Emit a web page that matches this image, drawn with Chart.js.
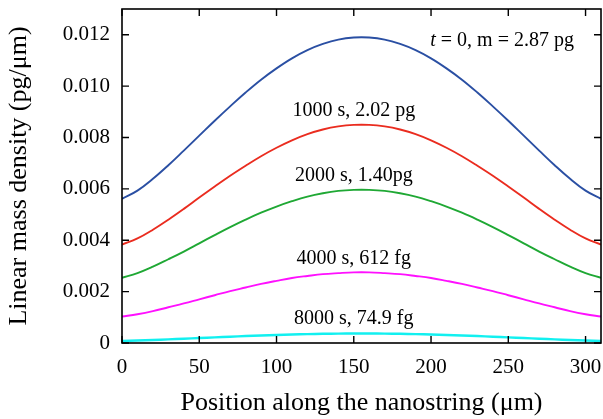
<!DOCTYPE html>
<html>
<head>
<meta charset="utf-8">
<script src="https://cdn.jsdelivr.net/npm/chart.js@4/dist/chart.umd.min.js"></script>
<style>
  html, body { margin: 0; padding: 0; background: #fff; }
  #wrap { width: 603px; height: 419px; }
</style>
</head>
<body>
<div id="wrap"><canvas id="c" width="603" height="419"></canvas></div>
<script>
// ---- data ----
const positions = [0,10,20,30,40,50,60,70,80,90,100,110,120,130,140,150,160,170,180,190,200,210,220,230,240,250,260,270,280,290,300,310];

const density_t0 = [0.00561,0.00593,0.00639,0.00692,0.00749,0.00807,0.00865,0.00921,0.00975,0.01025,0.01069,0.01108,0.01140,0.01164,0.01181,0.01189,
                    0.01189,0.01181,0.01164,0.01140,0.01108,0.01069,0.01025,0.00975,0.00921,0.00865,0.00807,0.00749,0.00692,0.00639,0.00593,0.00561];
const density_1000 = [0.00383,0.00407,0.00441,0.00480,0.00522,0.00566,0.00609,0.00651,0.00690,0.00727,0.00760,0.00789,0.00813,0.00831,0.00843,0.00849,
                      0.00849,0.00843,0.00831,0.00813,0.00789,0.00760,0.00727,0.00690,0.00651,0.00609,0.00566,0.00522,0.00480,0.00441,0.00407,0.00383];
const density_2000 = [0.00254,0.00272,0.00297,0.00326,0.00356,0.00388,0.00420,0.00451,0.00480,0.00507,0.00531,0.00552,0.00570,0.00583,0.00592,0.00596,
                      0.00596,0.00592,0.00583,0.00570,0.00552,0.00531,0.00507,0.00480,0.00451,0.00420,0.00388,0.00356,0.00326,0.00297,0.00272,0.00254];
const density_4000 = [0.00103,0.00112,0.00124,0.00139,0.00154,0.00170,0.00186,0.00202,0.00216,0.00230,0.00242,0.00253,0.00261,0.00268,0.00272,0.00275,
                      0.00275,0.00272,0.00268,0.00261,0.00253,0.00242,0.00230,0.00216,0.00202,0.00186,0.00170,0.00154,0.00139,0.00124,0.00112,0.00103];
const density_8000 = [0.000080,0.000095,0.000116,0.000140,0.000167,0.000193,0.000220,0.000246,0.000271,0.000294,0.000314,0.000332,0.000347,0.000358,0.000366,0.000370,
                      0.000370,0.000366,0.000358,0.000347,0.000332,0.000314,0.000294,0.000271,0.000246,0.000220,0.000193,0.000167,0.000140,0.000116,0.000095,0.000080];

const seriesLabels = ['t = 0, m = 2.87 pg', '1000 s, 2.02 pg', '2000 s, 1.40pg', '4000 s, 612 fg', '8000 s, 74.9 fg'];

const xTickValues = [0,50,100,150,200,250,300];
const xTickLabels = ['0','50','100','150','200','250','300'];
const yTickValues = [0,0.002,0.004,0.006,0.008,0.010,0.012];
const yTickLabels = ['0','0.002','0.004','0.006','0.008','0.010','0.012'];

// annotation anchors (data coordinates)
const labelX = [246, 150, 150, 150, 150];
const labelY = [0.01177, 0.00905, 0.00652, 0.00329, 0.00095];

const FONT = '"Liberation Serif", "Times New Roman", serif';
const colors = ['#2a4fa3', '#ea2c1f', '#1fa834', '#ff10ff', '#12f0f0'];
const seriesData = [density_t0, density_1000, density_2000, density_4000, density_8000];

const datasets = seriesData.map((arr, i) => ({
  label: seriesLabels[i],
  data: positions.map((x, k) => ({x: x, y: arr[k]})),
  borderColor: colors[i],
  borderWidth: i === 4 ? 2.4 : 1.9,
  pointRadius: 0,
  fill: false,
  tension: 0.4
}));

const framePlugin = {
  id: 'frame',
  afterDatasetsDraw(chart) {
    const {ctx, chartArea: a, scales: {x, y}} = chart;
    ctx.save();
    ctx.strokeStyle = '#000';
    ctx.lineWidth = 1.6;
    ctx.strokeRect(a.left, a.top, a.right - a.left, a.bottom - a.top);
    const L = 7;
    ctx.lineWidth = 1.4;
    ctx.beginPath();
    xTickValues.forEach(v => {
      const px = x.getPixelForValue(v);
      ctx.moveTo(px, a.bottom); ctx.lineTo(px, a.bottom - L);
      ctx.moveTo(px, a.top); ctx.lineTo(px, a.top + L);
    });
    yTickValues.forEach(v => {
      const py = y.getPixelForValue(v);
      ctx.moveTo(a.left, py); ctx.lineTo(a.left + L, py);
      ctx.moveTo(a.right, py); ctx.lineTo(a.right - L, py);
    });
    ctx.stroke();

    // curve annotations
    ctx.fillStyle = '#000';
    ctx.textBaseline = 'middle';
    ctx.textAlign = 'left';
    seriesLabels.forEach((txt, i) => {
      const cx = x.getPixelForValue(labelX[i]);
      const cy = y.getPixelForValue(labelY[i]);
      if (i === 0) {
        const first = 't';
        const rest = txt.slice(1);
        ctx.font = 'italic 20px ' + FONT;
        const w1 = ctx.measureText(first).width;
        ctx.font = '20px ' + FONT;
        const w2 = ctx.measureText(rest).width;
        let sx = cx - (w1 + w2) / 2;
        ctx.font = 'italic 20px ' + FONT;
        ctx.fillText(first, sx, cy);
        ctx.font = '20px ' + FONT;
        ctx.fillText(rest, sx + w1, cy);
      } else {
        ctx.font = '20px ' + FONT;
        const w = ctx.measureText(txt).width;
        ctx.fillText(txt, cx - w / 2, cy);
      }
    });
    ctx.restore();
  }
};

function noPad(s) { s.paddingTop = 0; s.paddingBottom = 0; s.paddingLeft = 0; s.paddingRight = 0; }

new Chart(document.getElementById('c'), {
  type: 'line',
  data: { datasets },
  options: {
    responsive: false,
    animation: false,
    layout: { padding: { top: 9, right: 2, bottom: 0, left: 0 } },
    plugins: { legend: { display: false }, tooltip: { enabled: false } },
    scales: {
      x: {
        type: 'linear',
        min: 0, max: 310,
        grid: { display: false, drawTicks: false },
        border: { display: false },
        afterBuildTicks(s) { s.ticks = xTickValues.map(v => ({value: v})); },
        afterFit(s) { s.height = 76; noPad(s); },
        ticks: {
          color: '#000',
          padding: 12,
          maxRotation: 0,
          autoSkip: false,
          font: { family: FONT, size: 21 },
          callback: (v) => { const i = xTickValues.indexOf(v); return i >= 0 ? xTickLabels[i] : ''; }
        },
        title: {
          display: true,
          text: 'Position along the nanostring (μm)',
          color: '#000',
          font: { family: FONT, size: 26 },
          padding: { top: 0, bottom: 0 }
        }
      },
      y: {
        type: 'linear',
        min: 0, max: 0.013,
        grid: { display: false, drawTicks: false },
        border: { display: false },
        afterBuildTicks(s) { s.ticks = yTickValues.map(v => ({value: v})); },
        afterFit(s) { s.width = 122; noPad(s); },
        ticks: {
          color: '#000',
          padding: 12,
          autoSkip: false,
          font: { family: FONT, size: 21 },
          callback: (v) => { const i = yTickValues.findIndex(t => Math.abs(t - v) < 1e-9); return i >= 0 ? yTickLabels[i] : ''; }
        },
        title: {
          display: true,
          text: 'Linear mass density (pg/μm)',
          color: '#000',
          font: { family: FONT, size: 26 },
          padding: { top: 4, bottom: 0 }
        }
      }
    }
  },
  plugins: [framePlugin]
});
</script>
</body>
</html>
